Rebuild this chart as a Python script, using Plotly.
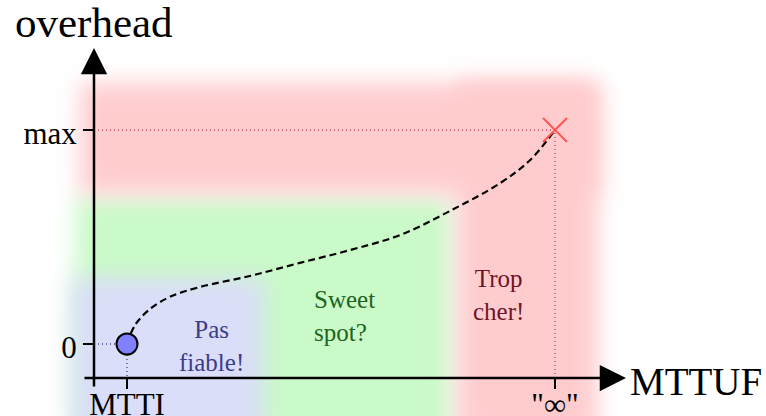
import math
import numpy as np
import plotly.graph_objects as go

# ---------------- data (conceptual units: MTTI..∞ -> 0..1, overhead 0..max -> 0..1) -------------
curve_x = [0.0, 0.019, 0.054, 0.10, 0.17, 0.287, 0.404, 0.521, 0.638, 0.755, 0.872, 0.942, 1.0]
curve_y = [0.0, 0.089, 0.164, 0.22, 0.266, 0.318, 0.379, 0.439, 0.509, 0.622, 0.752, 0.860, 1.0]

start_x = [0.0]
start_y = [0.0]
end_x = [1.0]
end_y = [1.0]

x_tick_vals = [0, 1]
x_tick_text = ["MTTI", '"∞"']
y_tick_vals = [0, 1]
y_tick_text = ["0", "max"]

region_names = ["Sweet spot?", "Pas fiable!", "Trop cher! (overhead)", "Trop cher! (MTTUF)"]
region_x0 = [-0.12, -0.13, -0.11, 0.77]
region_x1 = [0.76, 0.32, 1.10, 1.10]
region_y0 = [-0.45, -0.45, 0.70, -0.45]
region_y1 = [0.69, 0.31, 1.22, 1.22]

label_text = ["Pas<br>fiable!", "Sweet<br>spot?", "Trop<br>cher!"]

# ---------------- layout / scale settings ----------------
W, H = 766, 416
ORIGIN_PX = (127, 344)      # pixel position of (0, 0)
SX, SY = 428.0, 214.0       # pixels per unit

def fx(px):
    return (px - ORIGIN_PX[0]) / SX

def fy(py):
    return (ORIGIN_PX[1] - py) / SY

x_range = [fx(0), fx(W)]
y_range = [fy(H), fy(0)]

region_colors = [(202, 250, 200), (218, 222, 248), (255, 204, 206), (255, 204, 206)]
BLUR_PX = 11.0

FONT = "Liberation Serif"

# ---------------- background (blurred zones) ----------------
xs = x_range[0] + (np.arange(W) + 0.5) / SX
ys = y_range[0] + (np.arange(H) + 0.5) / SY
verf = np.vectorize(math.erf)
sx_u = BLUR_PX / SX
sy_u = BLUR_PX / SY
img = np.full((H, W, 3), 255.0)
for x0, x1, y0, y1, col in zip(region_x0, region_x1, region_y0, region_y1, region_colors):
    ax_ = 0.5 * (verf((xs - x0) / (math.sqrt(2) * sx_u)) - verf((xs - x1) / (math.sqrt(2) * sx_u)))
    ay_ = 0.5 * (verf((ys - y0) / (math.sqrt(2) * sy_u)) - verf((ys - y1) / (math.sqrt(2) * sy_u)))
    a = (ay_[:, None] * ax_[None, :])[..., None]
    img = img * (1 - a) + np.array(col, dtype=float) * a
z = np.clip(np.round(img), 0, 255).astype(int).tolist()

fig = go.Figure()
fig.add_trace(go.Image(z=z, x0=xs[0], dx=1 / SX, y0=ys[0], dy=1 / SY, hoverinfo="skip"))

YAXIS_X = fx(94)
XAXIS_Y = fy(378)

# guide lines (dotted)
fig.add_trace(go.Scatter(x=[YAXIS_X, end_x[0], end_x[0]], y=[end_y[0], end_y[0], XAXIS_Y],
                         mode="lines", line=dict(color="#c04858", width=1.3, dash="1px,3px"),
                         hoverinfo="skip", showlegend=False))
fig.add_trace(go.Scatter(x=[YAXIS_X, start_x[0], start_x[0]], y=[start_y[0], start_y[0], XAXIS_Y],
                         mode="lines", line=dict(color="#404090", width=1.3, dash="1px,3px"),
                         hoverinfo="skip", showlegend=False))

# curve
fig.add_trace(go.Scatter(x=curve_x, y=curve_y, mode="lines",
                         line=dict(color="black", width=2.2, dash="7px,4px", shape="spline", smoothing=1.0),
                         hoverinfo="skip", showlegend=False))

# points
fig.add_trace(go.Scatter(x=start_x, y=start_y, mode="markers",
                         marker=dict(size=21, color="#8080ff", line=dict(color="black", width=2)),
                         hoverinfo="skip", showlegend=False))
fig.add_trace(go.Scatter(x=end_x, y=end_y, mode="markers",
                         marker=dict(symbol="x-thin", size=24, color="#ff5555",
                                     line=dict(color="#ff5555", width=2)),
                         hoverinfo="skip", showlegend=False))

annotations = []
# axis arrows
annotations.append(dict(x=YAXIS_X, y=fy(48), ax=YAXIS_X, ay=fy(388), xref="x", yref="y",
                        axref="x", ayref="y", text="", showarrow=True, arrowhead=2,
                        arrowsize=2.1, arrowwidth=2.5, arrowcolor="black", standoff=0))
annotations.append(dict(x=fx(626), y=XAXIS_Y, ax=fx(83), ay=XAXIS_Y, xref="x", yref="y",
                        axref="x", ayref="y", text="", showarrow=True, arrowhead=2,
                        arrowsize=2.1, arrowwidth=2.5, arrowcolor="black", standoff=0))
# axis titles
annotations.append(dict(x=YAXIS_X, y=fy(22), xref="x", yref="y", text="overhead", showarrow=False,
                        xanchor="center", yanchor="middle", font=dict(family=FONT, size=43, color="black")))
annotations.append(dict(x=fx(628), y=fy(381), xref="x", yref="y", text="MTTUF", showarrow=False,
                        xanchor="left", yanchor="middle", font=dict(family=FONT, size=39, color="black")))
# zone labels
annotations.append(dict(x=fx(211), y=fy(346), xref="x", yref="y", text=label_text[0], showarrow=False,
                        xanchor="center", yanchor="middle", align="center",
                        font=dict(family=FONT, size=25, color="#3c3c8c")))
annotations.append(dict(x=fx(312), y=fy(316), xref="x", yref="y", text=label_text[1], showarrow=False,
                        xanchor="left", yanchor="middle", align="left",
                        font=dict(family=FONT, size=25, color="#1e641e")))
annotations.append(dict(x=fx(498), y=fy(295), xref="x", yref="y", text=label_text[2], showarrow=False,
                        xanchor="center", yanchor="middle", align="center",
                        font=dict(family=FONT, size=25, color="#6e1428")))

fig.update_layout(
    width=W, height=H, margin=dict(l=0, r=0, t=0, b=0, pad=0, autoexpand=False),
    paper_bgcolor="white", plot_bgcolor="white", showlegend=False,
    annotations=annotations,
    xaxis=dict(range=x_range, anchor="free", position=1 - 378 / H, automargin=False,
               showgrid=False, zeroline=False, showline=False,
               tickvals=x_tick_vals, ticktext=x_tick_text, ticks="outside", ticklen=10,
               tickwidth=2.5, tickcolor="black", ticklabelstandoff=-11,
               tickfont=dict(family=FONT, size=31, color="black")),
    yaxis=dict(range=y_range, anchor="free", position=94 / W, scaleanchor=False, automargin=False,
               showgrid=False, zeroline=False, showline=False,
               tickvals=y_tick_vals, ticktext=y_tick_text, ticks="outside", ticklen=11,
               tickwidth=2.5, tickcolor="black", ticklabelshift=3,
               tickfont=dict(family=FONT, size=31, color="black")),
)

fig.write_html("out.html", config={"displayModeBar": False, "staticPlot": True},
               post_script="document.body.style.margin='0';document.body.style.overflow='hidden';")
